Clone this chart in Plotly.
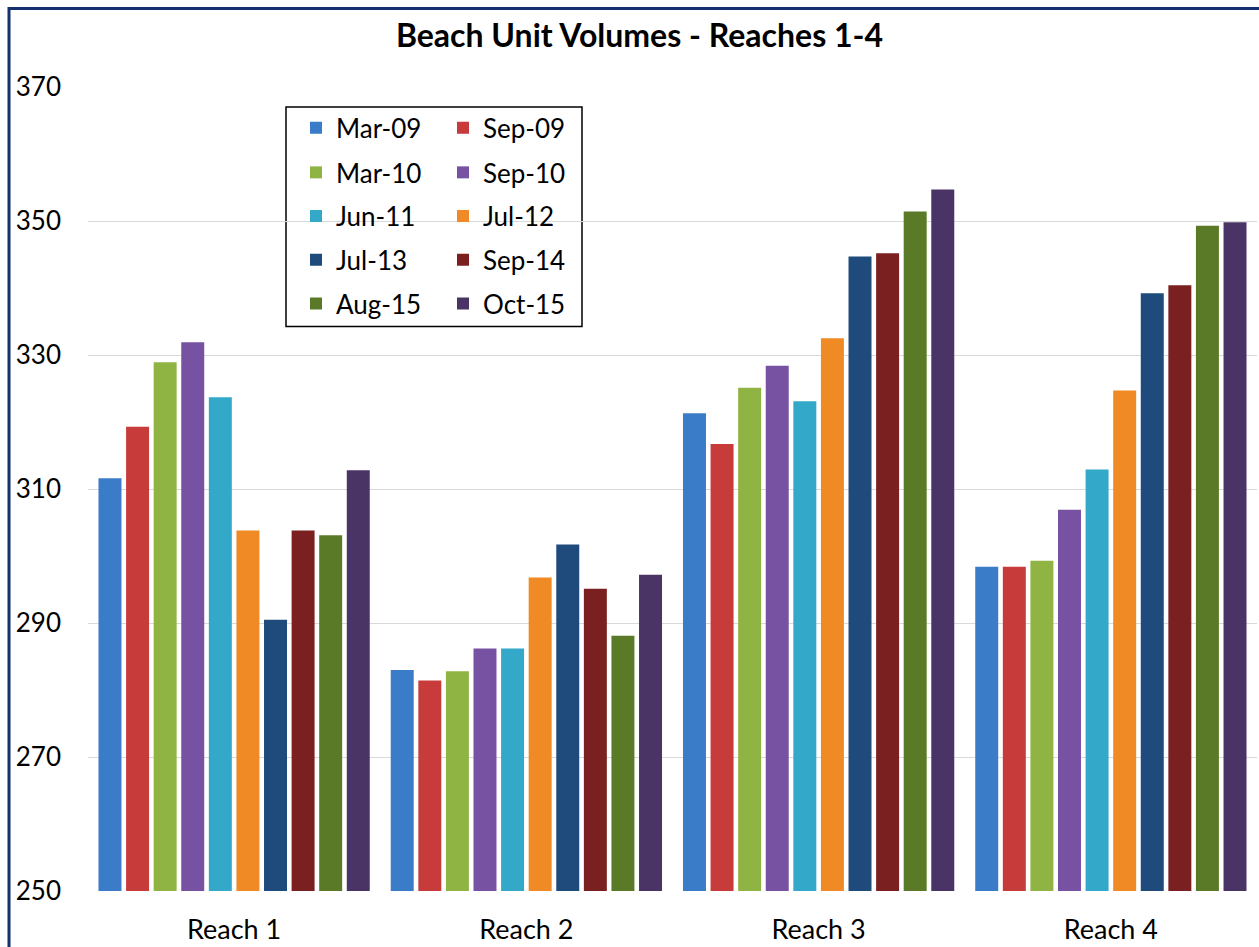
import plotly.graph_objects as go

# Survey dates (one bar series each) and reach categories
survey_dates = ["Mar-09", "Sep-09", "Mar-10", "Sep-10", "Jun-11",
                "Jul-12", "Jul-13", "Sep-14", "Aug-15", "Oct-15"]
reaches = ["Reach 1", "Reach 2", "Reach 3", "Reach 4"]

# Unit volumes per reach, in survey_dates order
reach1 = [311.6, 319.3, 328.9, 331.9, 323.7, 303.8, 290.5, 303.8, 303.1, 312.8]
reach2 = [283.0, 281.4, 282.8, 286.2, 286.2, 296.8, 301.7, 295.1, 288.1, 297.2]
reach3 = [321.3, 316.7, 325.1, 328.4, 323.1, 332.5, 344.7, 345.2, 351.4, 354.7]
reach4 = [298.4, 298.4, 299.3, 306.9, 312.9, 324.7, 339.2, 340.4, 349.3, 349.8]

y_ticks = [250, 270, 290, 310, 330, 350, 370]

colors = ["#3a7cc7", "#c73b3b", "#8fb443", "#7752a3", "#33a8c9",
          "#f08a25", "#1e4b7c", "#7b2020", "#5a7a28", "#4a3466"]

W, H = 1259, 947
L, R, T, B = 88, 2, 87, 51
pw, ph = W - L - R, H - T - B


def px_x(px):
    return (px - L) / pw


def px_y(py):
    return (H - B - py) / ph


FONT = "Lato"
by_reach = [reach1, reach2, reach3, reach4]

fig = go.Figure()
legend_names = ["legend", "legend2", "legend3", "legend4", "legend5"]
for i, (name, col) in enumerate(zip(survey_dates, colors)):
    fig.add_trace(go.Bar(
        x=reaches,
        y=[vals[i] for vals in by_reach],
        name=name,
        marker=dict(color=col, line=dict(width=0)),
        legend=legend_names[i // 2],
    ))

row_centers = [128, 173, 217, 261, 305]
legend_common = dict(
    orientation="h",
    xanchor="left",
    yanchor="middle",
    x=px_x(296),
    bgcolor="rgba(0,0,0,0)",
    borderwidth=0,
    entrywidth=102,
    entrywidthmode="pixels",
    font=dict(family=FONT, size=26, color="#000000"),
    traceorder="normal",
)
legend_layout = {}
for lname, cy in zip(legend_names, row_centers):
    legend_layout[lname] = dict(legend_common, y=px_y(cy))

fig.update_layout(
    width=W,
    height=H,
    margin=dict(l=L, r=R, t=T, b=B),
    paper_bgcolor="white",
    plot_bgcolor="white",
    barmode="group",
    bargap=0.056,
    bargroupgap=0.167,
    showlegend=True,
    title=dict(
        text="<b>Beach Unit Volumes - Reaches 1-4</b>",
        font=dict(family=FONT, size=32, color="#000000"),
        x=639.5 / W,
        xref="container",
        xanchor="center",
        y=1 - 36 / H,
        yref="container",
        yanchor="middle",
    ),
    xaxis=dict(
        showgrid=False,
        showline=False,
        ticks="",
        tickfont=dict(family=FONT, size=27, color="#000000"),
        ticklabelstandoff=20,
    ),
    yaxis=dict(
        range=[250, 370],
        tickvals=y_ticks,
        ticktext=[str(v) for v in y_ticks],
        showgrid=True,
        gridcolor="#d9d9d9",
        gridwidth=1,
        zeroline=False,
        showline=False,
        ticks="",
        tickfont=dict(family=FONT, size=26, color="#000000"),
        ticklabelstandoff=26,
    ),
    shapes=[
        # legend frame
        dict(type="rect", xref="paper", yref="paper",
             x0=px_x(286), x1=px_x(582), y0=px_y(328), y1=px_y(107),
             line=dict(color="#000000", width=1.5),
             fillcolor="white", layer="between"),
        # chart border
        dict(type="rect", xref="paper", yref="paper",
             x0=px_x(9), x1=px_x(1268), y0=px_y(958), y1=px_y(8),
             line=dict(color="#13306f", width=3),
             fillcolor="rgba(0,0,0,0)", layer="above"),
    ],
    **legend_layout,
)

fig.write_html("out.html")
